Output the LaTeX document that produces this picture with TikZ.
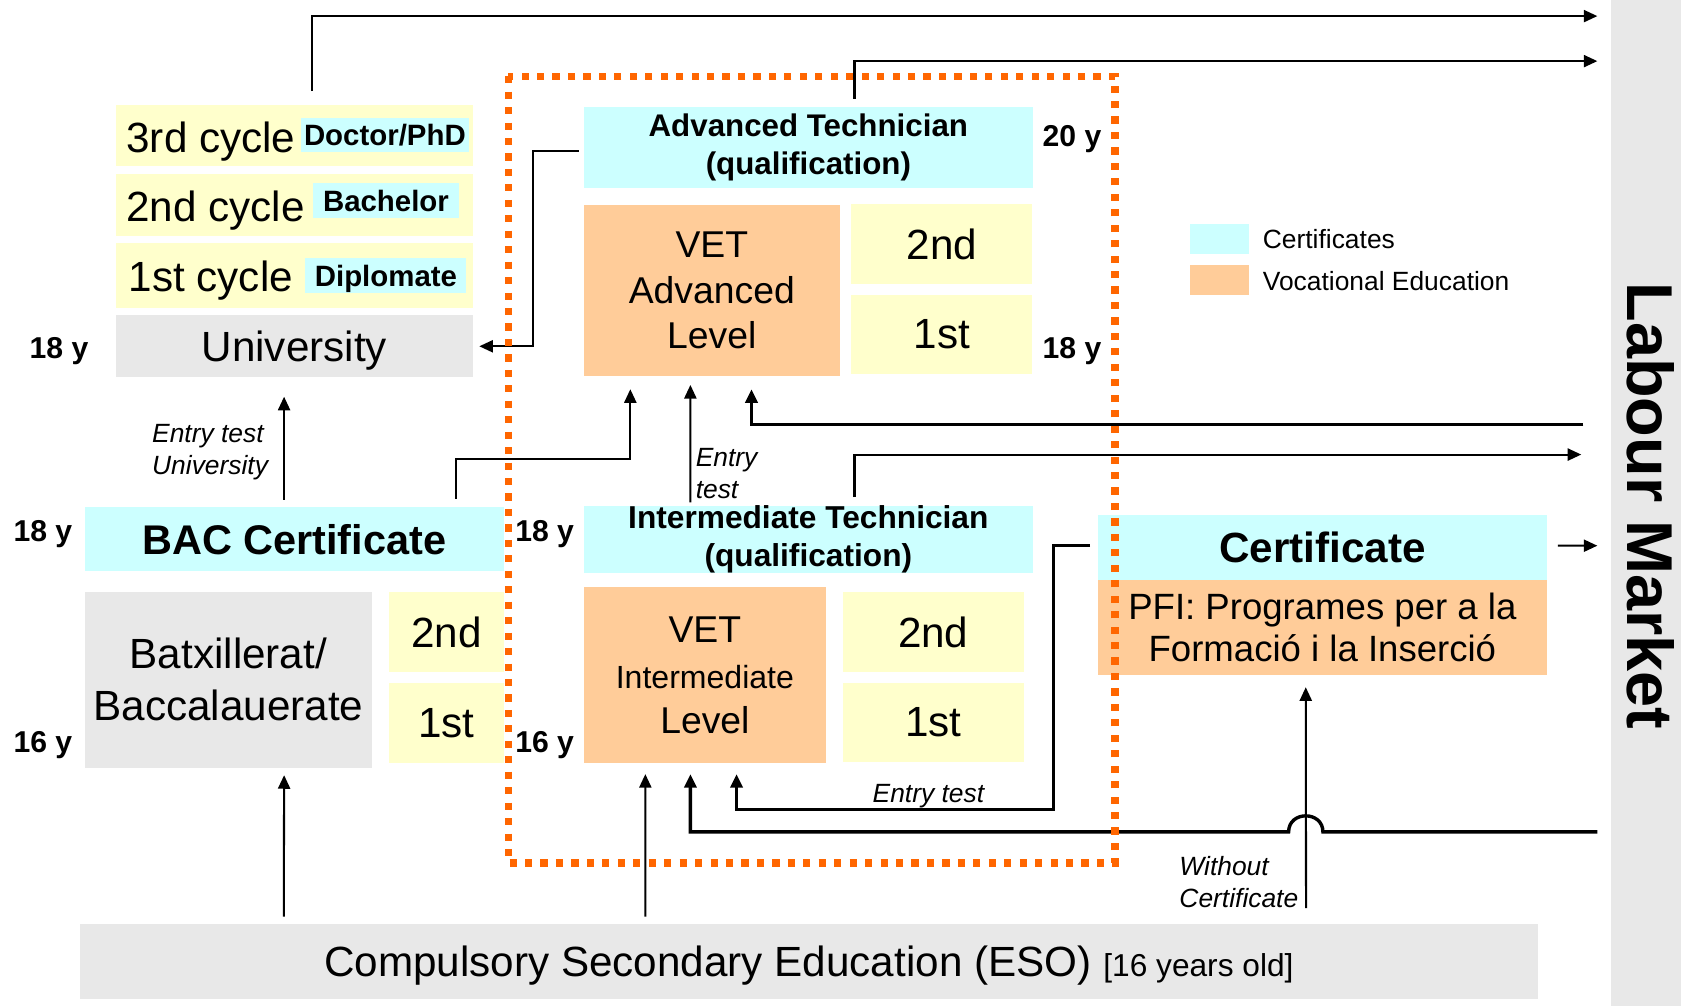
\documentclass[tikz,border=0pt]{standalone}
\usepackage{fontspec}
\setmainfont{Liberation Sans}
\usepackage{tikz}
\usetikzlibrary{arrows.meta}
\tikzset{every node/.style={inner sep=0pt, outer sep=0pt}}
\definecolor{certcol}{HTML}{CCFFFF}
\definecolor{yearcol}{HTML}{FFFFCC}
\definecolor{vetcol}{HTML}{FFCC99}
\definecolor{greycol}{HTML}{E8E8E8}
\definecolor{dotcol}{HTML}{FF6600}

\begin{document}
\begin{tikzpicture}[x=0.01cm, y=-0.01cm, >={Triangle[length=3.6pt,width=3.2pt]},
  cert/.style={fill=certcol}, yearbox/.style={fill=yearcol},
  vet/.style={fill=vetcol}, grey/.style={fill=greycol},
  flat/.style={text depth=0pt},
  big/.style={font=\fontsize{11.2}{13.7}\selectfont},
  mid/.style={font=\fontsize{9.9}{12}\selectfont},
  tag/.style={font=\bfseries\fontsize{7.8}{9.5}\selectfont, flat},
  age/.style={font=\bfseries\fontsize{8}{9.5}\selectfont, flat},
  note/.style={font=\itshape\fontsize{7}{8.5}\selectfont, align=left},
  flow/.style={->, line width=0.55pt},
  flowthick/.style={->, line width=0.9pt}]

  \useasboundingbox (0,0) rectangle (1568,938);

  % Labour market bar.
  \fill[greycol] (1503,0) rectangle (1568,938);
  \node[rotate=-90, font=\bfseries\fontsize{17.2}{20}\selectfont] (labour) at (1540,472) {Labour Market};

  % University.
  \node[yearbox, minimum width=3.33cm, minimum height=0.57cm] (cyc3) at (274.5,126.5) {};
  \node[big, flat, anchor=west] (cyc3txt) at (118,128) {3rd cycle};
  \node[cert, tag, minimum width=1.56cm, minimum height=0.32cm] (phd) at (359,126) {Doctor/PhD};
  \node[yearbox, minimum width=3.33cm, minimum height=0.58cm] (cyc2) at (274.5,191) {};
  \node[big, flat, anchor=west] (cyc2txt) at (118,192) {2nd cycle};
  \node[cert, tag, minimum width=1.36cm, minimum height=0.32cm] (bach) at (360,187) {Bachelor};
  \node[yearbox, minimum width=3.33cm, minimum height=0.60cm] (cyc1) at (274.5,257) {};
  \node[big, flat, anchor=west] (cyc1txt) at (120,258) {1st cycle};
  \node[cert, tag, minimum width=1.50cm, minimum height=0.32cm] (dipl) at (360,257) {Diplomate};
  \node[grey, big, flat, minimum width=3.33cm, minimum height=0.58cm] (univ) at (274.5,323) {University};
  \node[age] (a18u) at (55,325) {18 y};

  % Advanced VET.
  \node[cert, font=\bfseries\fontsize{8.3}{10.2}\selectfont, align=center,
    minimum width=4.18cm, minimum height=0.75cm] (advtech) at (754,137.5) {Advanced Technician\\(qualification)};
  \node[age] (a20) at (1000,127) {20 y};
  \node[vet, mid, align=center, minimum width=2.38cm, minimum height=1.60cm] (vetadv) at (664,271) {VET\\Advanced\\Level};
  \node[yearbox, big, minimum width=1.69cm, minimum height=0.75cm] (adv2) at (878.5,227.5) {2nd};
  \node[yearbox, big, minimum width=1.69cm, minimum height=0.74cm] (adv1) at (878.5,312) {1st};
  \node[age] (a18a) at (1000,325) {18 y};

  % Legend.
  \node[cert, minimum width=0.55cm, minimum height=0.28cm] (legcert) at (1137.5,223) {};
  \node[anchor=west, font=\fontsize{7}{8.5}\selectfont] (legcerttxt) at (1178,223) {Certificates};
  \node[vet, minimum width=0.55cm, minimum height=0.28cm] (legvet) at (1137.5,261) {};
  \node[anchor=west, font=\fontsize{7}{8.5}\selectfont] (legvettxt) at (1178,262) {Vocational Education};

  % Baccalaureate.
  \node[cert, font=\bfseries\fontsize{11}{13}\selectfont, minimum width=3.91cm, minimum height=0.60cm] (bac) at (274.5,503) {BAC Certificate};
  \node[age] (a18b) at (40,495) {18 y};
  \node[age] (a16b) at (40,692) {16 y};
  \node[grey, big, align=center, minimum width=2.68cm, minimum height=1.64cm] (batx) at (213,634) {Batxillerat/\\Baccalauerate};
  \node[yearbox, big, minimum width=1.07cm, minimum height=0.75cm] (bac2) at (416.5,589.5) {2nd};
  \node[yearbox, big, minimum width=1.07cm, minimum height=0.75cm] (bac1) at (416.5,674.5) {1st};
  \node[age] (a18i) at (508,495) {18 y};
  \node[age] (a16i) at (508,692) {16 y};

  % Intermediate VET.
  \node[cert, font=\bfseries\fontsize{8.4}{10}\selectfont, align=center,
    minimum width=4.18cm, minimum height=0.60cm] (inttech) at (754,503) {Intermediate Technician\\(qualification)};
  \node[vet, mid, align=center, minimum width=2.25cm, minimum height=1.64cm] (vetint) at (657.5,630)
    {VET\\{\fontsize{8.5}{10}\selectfont Intermediate}\\Level};
  \node[yearbox, big, minimum width=1.69cm, minimum height=0.75cm] (int2) at (870.5,589.5) {2nd};
  \node[yearbox, big, minimum width=1.69cm, minimum height=0.74cm] (int1) at (870.5,674) {1st};

  % PFI.
  \node[cert, font=\bfseries\fontsize{11.2}{13}\selectfont, minimum width=4.19cm, minimum height=0.61cm] (pficert) at (1233.5,510.5) {Certificate};
  \node[vet, font=\fontsize{9.7}{11.1}\selectfont, align=center, minimum width=4.19cm, minimum height=0.89cm] (pfi) at (1233.5,585.5)
    {PFI: Programes per a la\\Formació i la Inserció};

  % Compulsory secondary education.
  \node[grey, big, flat, minimum width=13.59cm, minimum height=0.70cm] (eso) at (754.5,897)
    {Compulsory Secondary Education (ESO) {\fontsize{8.4}{10}\selectfont [16 years old]}};

  % Free ends at the labour market.
  \coordinate (lmA) at (1490,15);
  \coordinate (lmB) at (1490,57);
  \coordinate (lmF) at (1477,396);
  \coordinate (lmG) at (1475,424);
  \coordinate (lmM) at (1490,509);
  \coordinate (lmK) at (1490,776);

  % Connectors.
  \draw[flow] ([xshift=0.165cm,yshift=0.13cm]cyc3.north) |- (lmA);
  \draw[flow] ([xshift=0.43cm,yshift=0.08cm]advtech.north) |- (lmB);
  \draw[flow] ([xshift=-0.05cm,yshift=-0.035cm]advtech.west) -- ++(-43,0) |- ([xshift=0.06cm]univ.east);
  \draw[flow] ([xshift=1.505cm,yshift=0.08cm]bac.north) -- ++(0,-37) -| ([xshift=-0.76cm,yshift=-0.12cm]vetadv.south);
  \draw[flow] ([xshift=-1.10cm,yshift=0.03cm]inttech.north) -- ([xshift=-0.20cm,yshift=-0.08cm]vetadv.south);
  \node[note, anchor=west] (entry1) at (649,442) {Entry\\test};
  \draw[flowthick] (lmF) -| ([xshift=0.37cm,yshift=-0.12cm]vetadv.south);
  \draw[flow] ([xshift=0.43cm,yshift=0.08cm]inttech.north) |- (lmG);
  \draw[flow] ([xshift=-0.095cm,yshift=0.07cm]bac.north) -- ([xshift=-0.095cm,yshift=-0.18cm]univ.south);
  \node[note, anchor=east] (entryu) at (250,422) {Entry test\\University};
  \draw[flow] ([xshift=-4.895cm,yshift=0.07cm]eso.north) -- ([xshift=0.52cm,yshift=-0.07cm]batx.south);
  \draw[flow] ([xshift=-1.525cm,yshift=0.07cm]eso.north) -- ([xshift=-0.555cm,yshift=-0.10cm]vetint.south);
  \draw[flowthick] (lmK) -- (1234,776) .. controls (1234,756) and (1202,756) .. (1202,776)
    -| ([xshift=-0.135cm,yshift=-0.10cm]vetint.south);
  \draw[flowthick] ([xshift=-0.07cm,yshift=0.015cm]pficert.west) -- ++(-34,0) -- ++(0,246)
    -| ([xshift=0.295cm,yshift=-0.10cm]vetint.south);
  \node[note, flat] (entry2) at (866,740) {Entry test};
  \draw[flow] ([xshift=0.10cm,yshift=0.015cm]pficert.east) -- (lmM);
  \draw[flow] ([xshift=4.635cm,yshift=0.15cm]eso.north) -- ([xshift=-0.155cm,yshift=-0.11cm]pfi.south);
  \node[note, anchor=east] (without) at (1211,823) {Without\\Certificate};

  % Vocational training frame.
  \draw[dotcol, line width=1.9pt, dash pattern=on 1.9pt off 2.2pt] (474,71) rectangle (1040,805);

\end{tikzpicture}
\end{document}
